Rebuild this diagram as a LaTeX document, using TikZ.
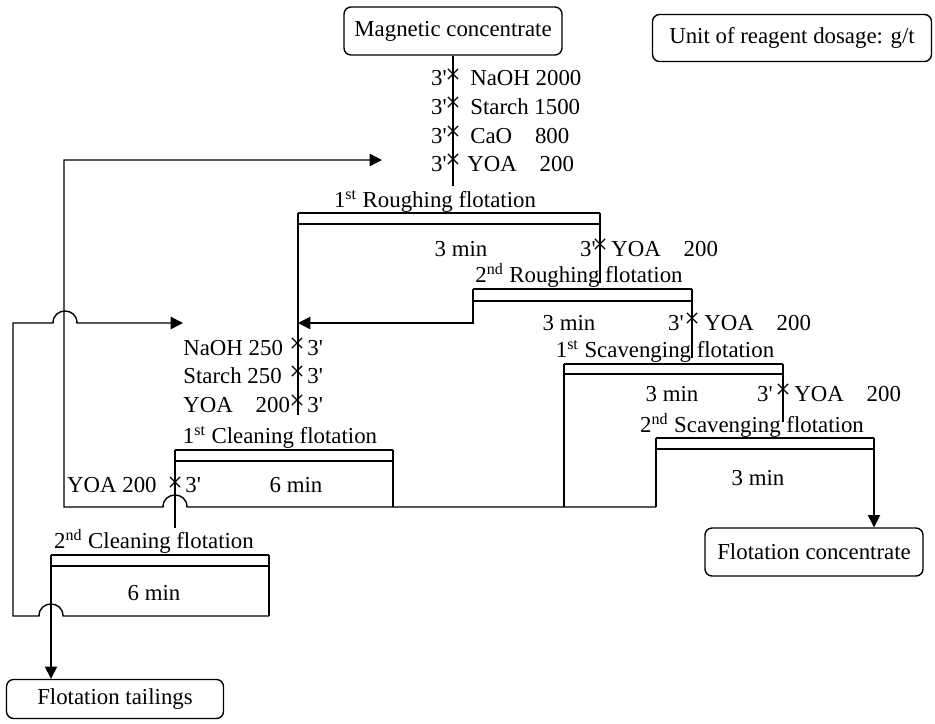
\documentclass[tikz,border=0pt]{standalone}
\usepackage{fontspec}
\setmainfont{Liberation Serif}
\usetikzlibrary{arrows.meta,shapes.misc}

\tikzset{
  flow/.style={line width=0.8pt},
  froth/.style={line width=1.4pt},
  endbox/.style={draw,line width=0.8pt,rounded corners=4pt,inner sep=0pt},
  cellname/.style={anchor=base,inner sep=0pt},
  dose/.style={anchor=base west,inner sep=0pt},
  doseleft/.style={anchor=base east,inner sep=0pt},
  addpoint/.style={draw,cross out,line width=0.7pt,minimum size=0.18cm,inner sep=0pt},
}
\newcommand{\mintime}{3\textquotesingle}

\begin{document}
\begin{tikzpicture}[x=0.02cm,y=-0.02cm,font=\fontsize{13}{15}\selectfont,
    >={Triangle[length=7pt,width=7pt]}]
		\useasboundingbox (0,0) rectangle (935,723);

		% Products and note
		\node[endbox,minimum width=4.36cm,minimum height=0.96cm] (mag) at (453,31) {Magnetic concentrate};
		\node[endbox,minimum width=5.58cm,minimum height=0.94cm] (unit) at (792,38) {Unit of reagent dosage: g/t};
		\node[endbox,minimum width=4.36cm,minimum height=0.96cm] (conc) at (814,552) {Flotation concentrate};
		\node[endbox,minimum width=4.34cm,minimum height=0.78cm] (tail) at (115,699) {Flotation tailings};

		% Feed and reagents
		\coordinate (feed) at (453,186);
		\draw[flow] (mag) -- (feed);
		\node[addpoint] (fx1) at (453,74) {};
		\node[addpoint] (fx2) at (453,102) {};
		\node[addpoint] (fx3) at (453,131) {};
		\node[addpoint] (fx4) at (453,159) {};
		\node[doseleft] (ft1) at (447,86) {\mintime};
		\node[doseleft] (ft2) at (447,114) {\mintime};
		\node[doseleft] (ft3) at (447,143) {\mintime};
		\node[doseleft] (ft4) at (447,171) {\mintime};
		\node[dose] (fr1) at (470,86) {NaOH 2000};
		\node[dose] (fr2) at (470,114) {Starch 1500};
		\node[dose] (fr3) at (470,143) {CaO\quad 800};
		\node[dose] (fr4) at (467,171) {YOA\quad 200};

		% 1st roughing flotation
		\coordinate (r1l) at (298,213);
		\coordinate (r1r) at (600,213);
		\coordinate (r1in) at (298,415);
		\coordinate (r1out) at (600,283);
		\draw[froth] (r1l) -- (r1r);
		\draw[flow] (298,224) -- (600,224);
		\draw[flow] (r1l) -- (r1in);
		\draw[flow] (r1r) -- (r1out);
		\node[cellname] (r1name) at (435,207) {1\textsuperscript{st} Roughing flotation};
		\node[cellname] (r1time) at (461,256) {3 min};
		\node[addpoint] (r1x) at (600,244) {};
		\node[doseleft] (r1t) at (596,256) {\mintime};
		\node[dose] (r1d) at (611,256) {YOA\quad 200};

		% 2nd roughing flotation
		\coordinate (r2l) at (473,289);
		\coordinate (r2r) at (692,289);
		\coordinate (r2low) at (473,323);
		\coordinate (r2out) at (692,358);
		\draw[froth] (r2l) -- (r2r);
		\draw[flow] (473,301) -- (692,301);
		\draw[flow,->] (r2l) -- (r2low) -- (r2low -| r1l);
		\draw[flow] (r2r) -- (r2out);
		\node[cellname] (r2name) at (579,282) {2\textsuperscript{nd} Roughing flotation};
		\node[cellname] (r2time) at (569,330) {3 min};
		\node[addpoint] (r2x) at (692,318) {};
		\node[doseleft] (r2t) at (684,330) {\mintime};
		\node[dose] (r2d) at (704,330) {YOA\quad 200};

		% 1st scavenging flotation
		\coordinate (s1l) at (564,364);
		\coordinate (s1r) at (783,364);
		\coordinate (s1low) at (564,507);
		\coordinate (s1out) at (783,422);
		\draw[froth] (s1l) -- (s1r);
		\draw[flow] (564,374) -- (783,374);
		\draw[flow] (s1l) -- (s1low);
		\draw[flow] (s1r) -- (s1out);
		\node[cellname] (s1name) at (665,357) {1\textsuperscript{st} Scavenging flotation};
		\node[cellname] (s1time) at (672,401) {3 min};
		\node[addpoint] (s1x) at (783,389) {};
		\node[doseleft] (s1t) at (773,401) {\mintime};
		\node[dose] (s1d) at (794,401) {YOA\quad 200};

		% 2nd scavenging flotation
		\coordinate (s2l) at (656,438);
		\coordinate (s2r) at (874,438);
		\coordinate (s2low) at (656,507);
		\draw[froth] (s2l) -- (s2r);
		\draw[flow] (656,449) -- (874,449);
		\draw[flow] (s2l) -- (s2low);
		\draw[flow,->] (s2r) -- (s2r |- conc.north);
		\node[cellname] (s2name) at (752,432) {2\textsuperscript{nd} Scavenging flotation};
		\node[cellname] (s2time) at (758,485) {3 min};

		% 1st cleaning flotation
		\coordinate (c1l) at (175,450);
		\coordinate (c1r) at (393,450);
		\coordinate (c1out) at (175,528);
		\coordinate (c1low) at (393,507);
		\draw[froth] (c1l) -- (c1r);
		\draw[flow] (175,461) -- (393,461);
		\draw[flow] (c1l) -- (c1out);
		\draw[flow] (c1r) -- (c1low);
		\node[cellname] (c1name) at (280,443) {1\textsuperscript{st} Cleaning flotation};
		\node[cellname] (c1time) at (296,492) {6 min};
		\node[addpoint] (cx1) at (297,343) {};
		\node[addpoint] (cx2) at (297,371) {};
		\node[addpoint] (cx3) at (297,400) {};
		\node[dose] (cr1) at (183,355) {NaOH 250};
		\node[dose] (cr2) at (183,383) {Starch 250};
		\node[dose] (cr3) at (183,412) {YOA\quad 200};
		\node[dose] (ct1) at (307,355) {\mintime};
		\node[dose] (ct2) at (307,383) {\mintime};
		\node[dose] (ct3) at (307,412) {\mintime};
		\node[addpoint] (c2x) at (175,482) {};
		\node[doseleft] (c2d) at (157,492) {YOA 200};
		\node[dose] (c2t) at (185,492) {\mintime};

		% 2nd cleaning flotation
		\coordinate (c2l) at (51,555);
		\coordinate (c2r) at (269,555);
		\coordinate (c2low) at (269,616);
		\draw[froth] (c2l) -- (c2r);
		\draw[flow] (51,566) -- (269,566);
		\draw[flow] (c2r) -- (c2low);
		\draw[flow,->] (c2l) -- (c2l |- tail.north);
		\node[cellname] (c2name) at (154,548) {2\textsuperscript{nd} Cleaning flotation};
		\node[cellname] (c2time) at (154,600) {6 min};

		% Middlings back to 1st roughing
		\coordinate (back1) at (382,160);
		\draw[flow,->] (s2low) -- (187,507) .. controls (187,491) and (163,491) .. (163,507)
			-- (64,507) -- (64,160) -- (back1);

		% 2nd cleaning tailings back to 1st cleaning
		\coordinate (back2) at (183,323);
		\draw[flow,->] (c2low) -- (63,616) .. controls (63,600) and (39,600) .. (39,616)
			-- (13,616) -- (13,323) -- (53,323) .. controls (53,307) and (77,307) .. (77,323) -- (back2);
	\end{tikzpicture}
\end{document}
